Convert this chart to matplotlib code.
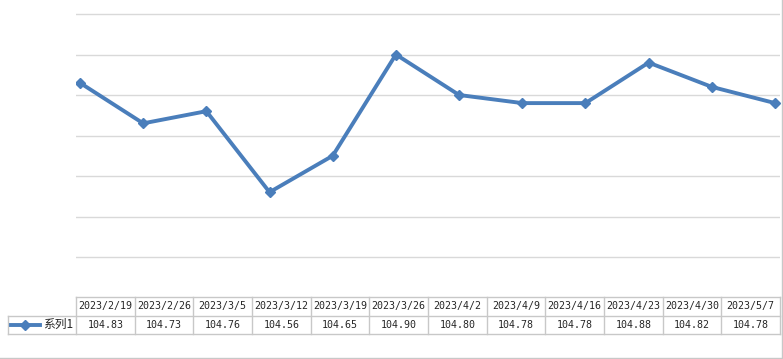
import matplotlib
matplotlib.use("Agg")
import matplotlib.pyplot as plt
from matplotlib.lines import Line2D

plt.rcParams['font.family'] = ['Noto Sans CJK SC', 'DejaVu Sans']

dates = ["2023/2/19", "2023/2/26", "2023/3/5", "2023/3/12", "2023/3/19", "2023/3/26",
         "2023/4/2", "2023/4/9", "2023/4/16", "2023/4/23", "2023/4/30", "2023/5/7"]
values = [104.83, 104.73, 104.76, 104.56, 104.65, 104.90,
          104.80, 104.78, 104.78, 104.88, 104.82, 104.78]
series_name = "系列1"

W, H = 783, 359
blue = "#4A7EBB"
grid = "#D9D9D9"
border = "#C8C8C8"
txt = "#262626"
mono = ['DejaVu Sans Mono', 'Noto Sans CJK SC']

fig = plt.figure(figsize=(W / 100, H / 100), dpi=100)


def box(x0, y0, x1, y1):
    # pixel box (from top-left) -> figure fraction rect
    return [x0 / W, 1 - y1 / H, (x1 - x0) / W, (y1 - y0) / H]


# line chart (axes a bit taller than the grid so the edge lines are not clipped)
ax = fig.add_axes(box(76, 10, 780, 261))
x = list(range(len(values)))
ax.plot(x, values, color=blue, lw=2.8, marker="D", ms=5.5, mfc=blue, mec=blue,
        solid_joinstyle="miter", zorder=3)
ax.set_xlim(-4 / 63.2, 11 + 5 / 63.2)
pad = 0.1 * 4 / 40.5
ax.set_ylim(104.4 - pad, 105.0 + pad)
ax.set_yticks([104.4 + 0.1 * i for i in range(7)])
ax.yaxis.grid(True, color=grid, lw=1)
ax.tick_params(left=False, bottom=False, labelleft=False, labelbottom=False)
for s in ax.spines.values():
    s.set_visible(False)

# data table
col_w = (780 - 76) / len(dates)
tx0 = -0.5 - (76 - 8) / col_w
tax = fig.add_axes(box(8, 297, 780, 334))
tax.set_xlim(tx0, len(dates) - 0.5)
tax.set_ylim(2, 0)
tax.axis("off")


def px(p):
    return (p - 76) / col_w - 0.5


n = len(dates)
tax.plot([-0.5, n - 0.5], [0, 0], color=border, lw=1, clip_on=False)
tax.plot([tx0, n - 0.5], [1, 1], color=border, lw=1, clip_on=False)
tax.plot([tx0, n - 0.5], [2, 2], color=border, lw=1, clip_on=False)
tax.plot([tx0, tx0], [1, 2], color=border, lw=1, clip_on=False)
for k in range(n + 1):
    tax.plot([k - 0.5, k - 0.5], [0, 2], color=border, lw=1, clip_on=False)

for i, (d, v) in enumerate(zip(dates, values)):
    tax.text(i, 0.5, d, ha="center", va="center", fontsize=7.2, color=txt, family=mono)
    tax.text(i, 1.5, f"{v:.2f}", ha="center", va="center", fontsize=7.2, color=txt, family=mono)

tax.plot([px(11), px(40)], [1.5, 1.5], color=blue, lw=2.8, clip_on=False)
tax.plot([px(25)], [1.5], marker="D", ms=5, color=blue, clip_on=False)
tax.text(px(43), 1.5, series_name, ha="left", va="center", fontsize=8.5, color=txt)

# chart border
fig.add_artist(Line2D([781.5 / W, 781.5 / W], [0, 1], color=border, lw=1))
fig.add_artist(Line2D([0, 781.5 / W], [0.6 / H, 0.6 / H], color=border, lw=1))

fig.savefig("out.png", dpi=100, facecolor="white")
